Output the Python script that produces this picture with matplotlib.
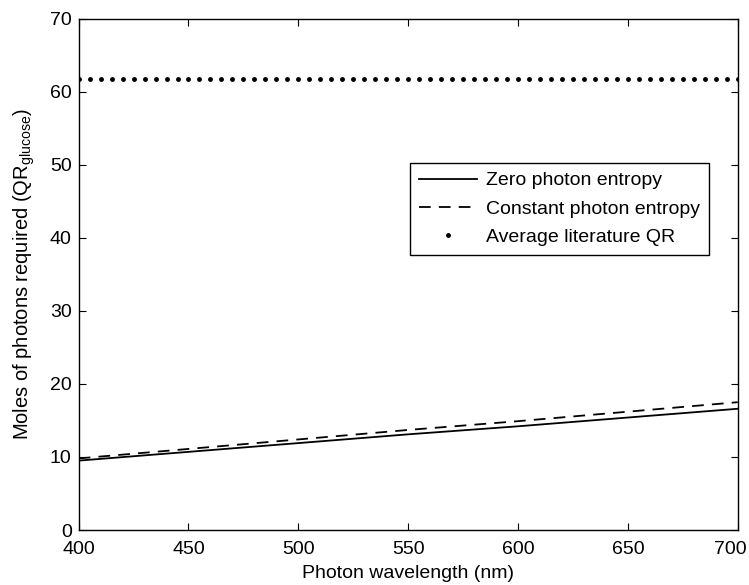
import numpy as np
import matplotlib.pyplot as plt
import matplotlib.transforms as mtransforms

# Datos
longitud_onda = [400, 450, 500, 550, 600, 650, 700]
qr_entropia_cero = [9.5, 10.7, 11.9, 13.1, 14.2, 15.4, 16.6]
qr_entropia_constante = [9.8, 11.1, 12.4, 13.7, 14.9, 16.2, 17.5]
onda_literatura = np.arange(400, 701, 5)   # puntos cada 5 nm
qr_literatura = 61.7

plt.rcParams['font.family'] = ['Liberation Sans', 'DejaVu Sans']
plt.rcParams['font.size'] = 14

fig = plt.figure(figsize=(7.49, 5.85), dpi=100)
ax = fig.add_axes([0.105, 0.094, 0.88, 0.874])

ax.plot(longitud_onda, qr_entropia_cero, color='black', linewidth=1.3,
        label='Zero photon entropy')
ax.plot(longitud_onda, qr_entropia_constante, color='black', linewidth=1.3,
        linestyle=(0, (6.5, 4.5)), label='Constant photon entropy')
ax.plot(onda_literatura, np.full(len(onda_literatura), qr_literatura),
        color='black', linestyle='none', marker='.', markersize=5,
        label='Average literature QR')

ax.set_xlim(400, 700)
ax.set_ylim(0, 70)
ax.set_xticks(np.arange(400, 701, 50))
ax.set_yticks(np.arange(0, 71, 10))
ax.tick_params(direction='in', length=5, width=0.8, top=True, right=True)
ax.tick_params(axis='x', pad=8)
ax.tick_params(axis='y', pad=5)
for lado in ax.spines.values():
    lado.set_linewidth(1.0)

# la etiqueta 700 se corre un poco a la izquierda para que quepa
fig.canvas.draw()
etiqueta_700 = ax.get_xticklabels()[-1]
etiqueta_700.set_transform(etiqueta_700.get_transform() +
                           mtransforms.ScaledTranslation(-7 / 100, 0, fig.dpi_scale_trans))

ax.set_xlabel('Photon wavelength (nm)', labelpad=5)
ax.set_ylabel(r'Moles of photons required (QR$_{\mathregular{glucose}}$)',
              labelpad=9, fontsize=14.5)

ax.legend(loc='upper left', bbox_to_anchor=(410 / 749, 1 - 163 / 585),
          bbox_transform=fig.transFigure, frameon=True, fancybox=False,
          edgecolor='black', framealpha=1, handlelength=3.0, numpoints=1,
          borderpad=0.45, labelspacing=0.55, handletextpad=0.45,
          borderaxespad=0)

fig.savefig('out.png', dpi=100)
